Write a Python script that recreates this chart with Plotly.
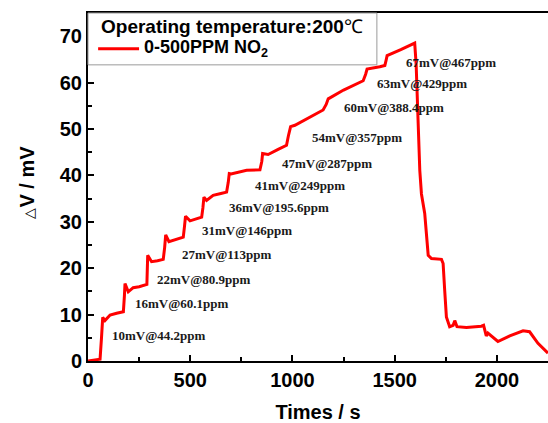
import plotly.graph_objects as go

# Sensor response (ΔV) versus time for stepwise NO2 exposure at 200 °C
time_s = [0, 30, 59, 66, 72, 83, 108, 140, 173, 178, 181, 197, 221, 250, 279, 288, 292,
          311, 340, 368, 375, 380, 396, 430, 466, 472, 477, 499, 530, 556, 562, 567, 580,
          612, 650, 678, 686, 691, 700, 740, 776, 841, 850, 854, 881, 930, 971, 980, 991,
          1012, 1080, 1150, 1165, 1175, 1250, 1346, 1358, 1365, 1427, 1452, 1458, 1463,
          1530, 1598, 1605, 1615, 1623, 1631, 1647, 1664, 1680, 1729, 1737, 1745, 1753,
          1769, 1786, 1794, 1805, 1851, 1900, 1924, 1935, 1942, 1948, 1956, 2005, 2063,
          2128, 2160, 2201, 2250]
dv_mv = [0.0, 0.2, 0.4, 5.0, 9.4, 8.7, 9.9, 10.3, 10.6, 14.0, 16.7, 14.9, 15.8, 16.0,
         16.3, 16.5, 22.8, 21.4, 21.6, 21.9, 24.5, 27.2, 25.7, 26.2, 26.7, 29.0, 31.2,
         30.2, 30.6, 31.0, 33.0, 35.3, 34.6, 35.7, 36.1, 36.4, 38.5, 40.4, 40.3, 40.8,
         41.1, 41.2, 43.0, 44.7, 44.5, 45.6, 46.5, 48.5, 50.5, 50.8, 52.4, 54.1, 55.3,
         56.5, 58.4, 60.4, 61.8, 62.9, 63.4, 63.7, 64.8, 65.8, 67.1, 68.5, 64.0, 50.0,
         41.0, 36.0, 31.8, 22.8, 22.1, 21.9, 21.0, 15.0, 9.5, 7.4, 7.7, 8.7, 7.4, 7.2,
         7.3, 7.5, 7.7, 6.2, 5.4, 6.0, 4.2, 5.4, 6.5, 6.3, 3.8, 1.7]

# Step labels: response @ concentration, placed beside each step
label_text = ["10mV@44.2ppm", "16mV@60.1ppm", "22mV@80.9ppm", "27mV@113ppm",
              "31mV@146ppm", "36mV@195.6ppm", "41mV@249ppm", "47mV@287ppm",
              "54mV@357ppm", "60mV@388.4ppm", "63mV@429ppm", "67mV@467ppm"]
label_x = [107, 221, 327, 450, 547, 678, 808, 938, 1088, 1243, 1403, 1546]
label_y = [5.6, 12.3, 17.6, 23.0, 28.2, 33.0, 37.8, 42.5, 48.2, 54.6, 59.7, 64.4]

x_ticks = [0, 500, 1000, 1500, 2000]
y_ticks = [0, 10, 20, 30, 40, 50, 60, 70]

legend_title = "Operating temperature:200<span style='font-weight:normal'>℃</span>"
series_name = "0-500PPM NO<sub>2</sub>"
y_title = "<span style='font-weight:normal;font-size:14px'>△</span>V / mV"
line_color = "#ff0000"

sans = "Liberation Sans, Arial, sans-serif"
serif = "Liberation Serif, Times New Roman, serif"

fig = go.Figure()
fig.add_trace(go.Scatter(
    x=time_s, y=dv_mv, mode="lines",
    line=dict(color=line_color, width=3),
    name=series_name, showlegend=False,
))

for txt, lx, ly in zip(label_text, label_x, label_y):
    fig.add_annotation(
        x=lx, y=ly, text=txt, showarrow=False, xanchor="left", yanchor="middle",
        font=dict(family=serif, size=13, color="#1a1a1a", weight="bold"),
    )

# Legend panel in the top-left corner of the plot area
fig.add_shape(type="rect", xref="paper", yref="paper",
              x0=0, x1=0.628, y0=0.851, y1=1.0,
              line=dict(color="#9a9a9a", width=1), fillcolor="white", layer="above")
fig.add_annotation(xref="paper", yref="paper", x=0.024, y=0.960,
                   xanchor="left", yanchor="middle", showarrow=False, text=legend_title,
                   font=dict(family=sans, size=19, color="black", weight="bold"))
fig.add_shape(type="line", xref="paper", yref="paper",
              x0=0.022, x1=0.111, y0=0.897, y1=0.897,
              line=dict(color=line_color, width=3), layer="above")
fig.add_annotation(xref="paper", yref="paper", x=0.118, y=0.897,
                   xanchor="left", yanchor="middle", showarrow=False, text=series_name,
                   font=dict(family=sans, size=18, color="black", weight="bold"))

# Vertical axis title, set a little further out than the default placement
fig.add_annotation(xref="paper", yref="paper", x=-0.133, y=0.515,
                   xanchor="center", yanchor="middle", showarrow=False, textangle=-90,
                   text=y_title,
                   font=dict(family=sans, size=20, color="black", weight="bold"))

axis_common = dict(
    showline=True, linecolor="black", linewidth=2,
    ticks="inside", tickcolor="black", tickwidth=2, ticklen=6,
    showgrid=False, zeroline=False,
    tickfont=dict(family=sans, size=20, color="black", weight="bold"),
)

fig.update_layout(
    width=548, height=423,
    margin=dict(l=88, r=0, t=13, b=62),
    plot_bgcolor="white", paper_bgcolor="white",
    showlegend=False,
    xaxis=dict(
        range=[0, 2250], tickvals=x_ticks, mirror=True,
        minor=dict(dtick=250, ticks="inside", ticklen=4, tickwidth=2, tickcolor="black"),
        title=dict(text="Times / s", standoff=19,
                   font=dict(family=sans, size=20, color="black", weight="bold")),
        **axis_common,
    ),
    yaxis=dict(
        range=[0, 75], tickvals=y_ticks,
        minor=dict(dtick=5, ticks="inside", ticklen=4, tickwidth=2, tickcolor="black"),
        **axis_common,
    ),
)

fig.write_html("out.html")
